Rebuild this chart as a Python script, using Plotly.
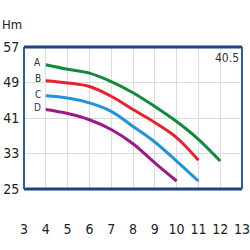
import plotly.graph_objects as go

xA = [4, 5, 6, 7, 8, 9, 10, 11, 12]
yA = [53.0, 52.0, 51.1, 49.2, 46.7, 43.6, 40.2, 36.2, 31.3]
xB = [4, 5, 6, 7, 8, 9, 10, 11]
yB = [49.4, 48.9, 48.1, 45.9, 42.9, 40.0, 36.6, 31.5]
xC = [4, 5, 6, 7, 8, 9, 10, 11]
yC = [46.0, 45.5, 44.4, 42.5, 39.1, 35.6, 31.3, 26.8]
xD = [4, 5, 6, 7, 8, 9, 10]
yD = [42.9, 42.0, 40.6, 38.4, 35.2, 30.9, 26.8]
names = ["A", "B", "C", "D"]
colors = ["#12893d", "#e8212b", "#1f94d6", "#9a1a8c"]
xticks = [3, 4, 5, 6, 7, 8, 9, 10, 11, 12, 13]
yticks = [25, 33, 41, 49, 57]
model = "40.5"

FONT = "DejaVu Sans Condensed, Liberation Sans Narrow, Roboto, sans-serif"

fig = go.Figure()
for xs, ys, n, c in zip([xA, xB, xC, xD], [yA, yB, yC, yD], names, colors):
    fig.add_trace(go.Scatter(x=xs, y=ys, mode="lines", name=n,
                             line=dict(color=c, width=3, shape="spline"),
                             showlegend=False, hoverinfo="skip"))
    fig.add_annotation(x=xs[0] - 0.15, y=ys[0] + 0.4, text=n, showarrow=False,
                       xanchor="right", yanchor="middle",
                       font=dict(family=FONT, size=10, color="#333333"))

fig.add_annotation(x=12.95, y=54.5, text=model, showarrow=False, xanchor="right",
                   yanchor="middle", font=dict(family=FONT, size=12, color="#333333"))
fig.add_annotation(xref="paper", yref="paper", x=-0.055, y=1.16, text="Hm",
                   showarrow=False, xanchor="center", yanchor="middle",
                   font=dict(family=FONT, size=13, color="#222222"))
fig.add_annotation(x=13, y=21.3, text="m<sup>3</sup>/<sub>hr</sub>", showarrow=False,
                   xanchor="center", yanchor="middle",
                   font=dict(family=FONT, size=8, color="#333333"))

# frame
fig.add_shape(type="line", xref="paper", yref="paper", x0=0, x1=1, y0=1, y1=1,
              line=dict(color="#1c4580", width=3))
fig.add_shape(type="line", xref="paper", yref="paper", x0=0, x1=1, y0=0, y1=0,
              line=dict(color="#1c4580", width=3))
fig.add_shape(type="line", xref="paper", yref="paper", x0=0, x1=0, y0=0, y1=1,
              line=dict(color="#2c5ea8", width=2))
fig.add_shape(type="line", xref="paper", yref="paper", x0=1, x1=1, y0=0, y1=1,
              line=dict(color="#2c5ea8", width=2))

fig.update_xaxes(range=[3, 13], tickvals=xticks, showgrid=True, gridcolor="#dcdcdc",
                 gridwidth=1, zeroline=False, showline=False, automargin=False,
                 ticks="outside", ticklen=27, tickcolor="rgba(0,0,0,0)",
                 ticklabeloverflow="allow",
                 tickfont=dict(family=FONT, size=14, color="#222222"))
fig.update_yaxes(range=[25, 57], tickvals=yticks, showgrid=True, gridcolor="#dcdcdc",
                 gridwidth=1, zeroline=False, showline=False, automargin=False,
                 ticks="outside", ticklen=1, tickcolor="rgba(0,0,0,0)",
                 ticklabeloverflow="allow",
                 tickfont=dict(family=FONT, size=14, color="#222222"))
fig.update_layout(width=250, height=250, margin=dict(l=24, r=8, t=47, b=61),
                  plot_bgcolor="white", paper_bgcolor="white")
fig.write_html("out.html")
